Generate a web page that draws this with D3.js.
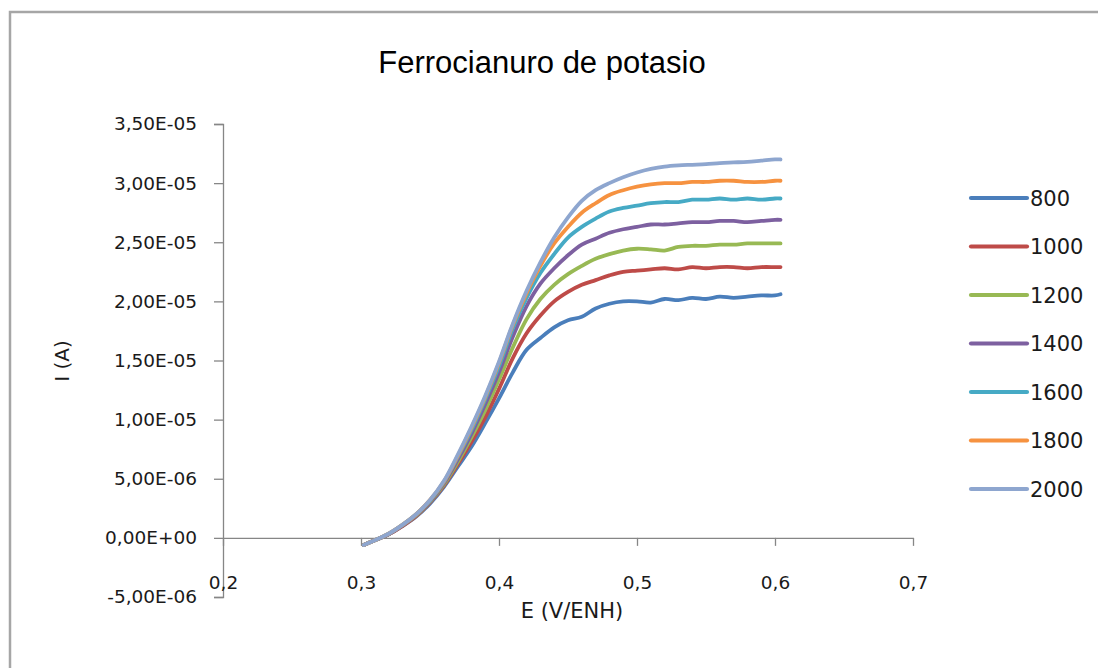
<!DOCTYPE html>
<html>
<head>
<meta charset="utf-8">
<script src="https://cdn.jsdelivr.net/npm/d3@7"></script>
<style>
  html, body { margin: 0; padding: 0; background: #ffffff; }
  svg { display: block; }
</style>
</head>
<body>
<svg id="chart" width="1098" height="668"></svg>
<script>
// ---------- DATA ----------
const chartTitle = "Ferrocianuro de potasio";
const xTitle = "E (V/ENH)";
const yTitle = "I (A)";

// Potential (V/ENH)
const potential = [0.302, 0.31, 0.32, 0.33, 0.34, 0.35, 0.36, 0.37, 0.38, 0.39,
  0.40, 0.41, 0.42, 0.43, 0.44, 0.45, 0.46, 0.47, 0.48, 0.49,
  0.50, 0.51, 0.52, 0.53, 0.54, 0.55, 0.56, 0.57, 0.58, 0.59, 0.60, 0.604];

// Current in units of 1e-6 A
const currentUnit = 1e-6;
const i800  = [-0.6, -0.2, 0.3, 1.0, 1.8, 2.9, 4.3, 6.0, 7.7, 9.7,
  11.8, 14.0, 15.9, 16.9, 17.8, 18.4, 18.7, 19.4, 19.8, 20.0,
  20.0, 19.9, 20.2, 20.1, 20.3, 20.2, 20.4, 20.3, 20.4, 20.5, 20.5, 20.6];
const i1000 = [-0.6, -0.2, 0.3, 1.0, 1.85, 3.0, 4.4, 6.2, 8.1, 10.2,
  12.6, 15.2, 17.3, 18.8, 20.0, 20.8, 21.4, 21.8, 22.2, 22.5,
  22.6, 22.7, 22.8, 22.7, 22.9, 22.8, 22.9, 22.9, 22.8, 22.9, 22.9, 22.9];
const i1200 = [-0.6, -0.2, 0.3, 1.05, 1.9, 3.05, 4.5, 6.4, 8.5, 10.8,
  13.4, 16.1, 18.5, 20.2, 21.4, 22.3, 23.0, 23.6, 24.0, 24.3,
  24.45, 24.4, 24.3, 24.6, 24.7, 24.7, 24.8, 24.8, 24.9, 24.9, 24.9, 24.9];
const i1400 = [-0.6, -0.2, 0.3, 1.05, 1.95, 3.1, 4.6, 6.6, 8.8, 11.3,
  14.0, 17.0, 19.6, 21.5, 22.8, 23.9, 24.8, 25.3, 25.8, 26.1,
  26.3, 26.5, 26.5, 26.6, 26.7, 26.7, 26.8, 26.8, 26.7, 26.8, 26.9, 26.9];
const i1600 = [-0.6, -0.2, 0.35, 1.1, 2.0, 3.15, 4.7, 6.8, 9.1, 11.7,
  14.5, 17.7, 20.3, 22.4, 24.0, 25.4, 26.3, 27.0, 27.6, 27.9,
  28.1, 28.3, 28.4, 28.4, 28.6, 28.6, 28.7, 28.6, 28.7, 28.6, 28.7, 28.7];
const i1800 = [-0.6, -0.2, 0.35, 1.1, 2.0, 3.2, 4.75, 6.9, 9.3, 11.9,
  14.8, 18.0, 20.7, 23.0, 24.9, 26.3, 27.5, 28.3, 29.0, 29.4,
  29.7, 29.9, 30.0, 30.0, 30.1, 30.1, 30.2, 30.2, 30.1, 30.1, 30.2, 30.2];
const i2000 = [-0.6, -0.2, 0.35, 1.1, 2.0, 3.2, 4.8, 7.0, 9.4, 12.0,
  14.9, 18.1, 20.9, 23.3, 25.4, 27.1, 28.5, 29.4, 30.0, 30.5,
  30.9, 31.2, 31.4, 31.5, 31.55, 31.6, 31.7, 31.75, 31.8, 31.9, 32.0, 32.0];

const seriesNames = ["800", "1000", "1200", "1400", "1600", "1800", "2000"];
const seriesValues = [i800, i1000, i1200, i1400, i1600, i1800, i2000];
const seriesColors = ["#4A7EBB", "#BE4B48", "#98B954", "#7D60A0", "#46AAC5", "#F69240", "#8EA6CF"];

const xTickValues = [0.2, 0.3, 0.4, 0.5, 0.6, 0.7];
const xTickLabels = ["0,2", "0,3", "0,4", "0,5", "0,6", "0,7"];
const yTickValues = [-5e-6, 0, 5e-6, 1e-5, 1.5e-5, 2e-5, 2.5e-5, 3e-5, 3.5e-5];
const yTickLabels = ["-5,00E-06", "0,00E+00", "5,00E-06", "1,00E-05", "1,50E-05",
  "2,00E-05", "2,50E-05", "3,00E-05", "3,50E-05"];

// ---------- LAYOUT ----------
const svg = d3.select("#chart");
const axisColor = "#868686";
const tickFont = "DejaVu Sans, Verdana, sans-serif";

// chart frame
svg.append("rect")
  .attr("x", 10).attr("y", 12)
  .attr("width", 1110).attr("height", 700)
  .attr("fill", "#ffffff")
  .attr("stroke", "#a6a6a6").attr("stroke-width", 2.5);

const x = d3.scaleLinear().domain([0.2, 0.7]).range([223, 913]);
const y = d3.scaleLinear().domain([-5e-6, 3.5e-5]).range([597, 124]);

// title
svg.append("text")
  .attr("x", 542).attr("y", 73)
  .attr("text-anchor", "middle")
  .attr("font-family", "Liberation Sans, Arial, sans-serif")
  .attr("font-size", 31)
  .attr("fill", "#000")
  .text(chartTitle);

// Y axis
const yAxis = d3.axisLeft(y)
  .tickValues(yTickValues)
  .tickSize(9)
  .tickPadding(17)
  .tickFormat((d, i) => yTickLabels[i]);
const gy = svg.append("g").attr("transform", `translate(${x(0.2)},0)`).call(yAxis);
gy.select(".domain").attr("stroke", axisColor).attr("stroke-width", 1.3);
gy.selectAll(".tick line").attr("stroke", axisColor).attr("stroke-width", 1.3);
gy.selectAll(".tick text")
  .attr("font-family", tickFont).attr("font-size", 18.5).attr("fill", "#1a1a1a");

// X axis at y = 0
const xAxis = d3.axisBottom(x)
  .tickValues(xTickValues)
  .tickSize(8)
  .tickSizeOuter(0)
  .tickPadding(30)
  .tickFormat((d, i) => xTickLabels[i]);
const gx = svg.append("g").attr("transform", `translate(0,${y(0)})`).call(xAxis);
gx.select(".domain").attr("stroke", axisColor).attr("stroke-width", 1.3);
gx.selectAll(".tick line").attr("stroke", axisColor).attr("stroke-width", 1.3);
gx.selectAll(".tick text")
  .attr("font-family", tickFont).attr("font-size", 18.5).attr("fill", "#1a1a1a");

// axis titles
svg.append("text")
  .attr("x", 572).attr("y", 618)
  .attr("text-anchor", "middle")
  .attr("font-family", tickFont).attr("font-size", 21)
  .attr("fill", "#1a1a1a")
  .text(xTitle);

svg.append("text")
  .attr("transform", "translate(69,361) rotate(-90)")
  .attr("text-anchor", "middle")
  .attr("font-family", tickFont).attr("font-size", 20)
  .attr("fill", "#1a1a1a")
  .text(yTitle);

// series lines
const line = d3.line()
  .x((d, i) => x(potential[i]))
  .y(d => y(d * currentUnit))
  .curve(d3.curveCatmullRom.alpha(0.5));

seriesValues.forEach((vals, k) => {
  svg.append("path")
    .datum(vals)
    .attr("d", line)
    .attr("fill", "none")
    .attr("stroke", seriesColors[k])
    .attr("stroke-width", 3.8)
    .attr("stroke-linejoin", "round")
    .attr("stroke-linecap", "round");
});

// legend
const legend = svg.append("g");
seriesNames.forEach((name, k) => {
  const ly = 198 + k * 48.5;
  legend.append("line")
    .attr("x1", 971).attr("x2", 1027)
    .attr("y1", ly).attr("y2", ly)
    .attr("stroke", seriesColors[k])
    .attr("stroke-width", 4.2)
    .attr("stroke-linecap", "round");
  legend.append("text")
    .attr("x", 1030).attr("y", ly)
    .attr("dy", "0.36em")
    .attr("font-family", tickFont).attr("font-size", 21)
    .attr("fill", "#1a1a1a")
    .text(name);
});
</script>
</body>
</html>
